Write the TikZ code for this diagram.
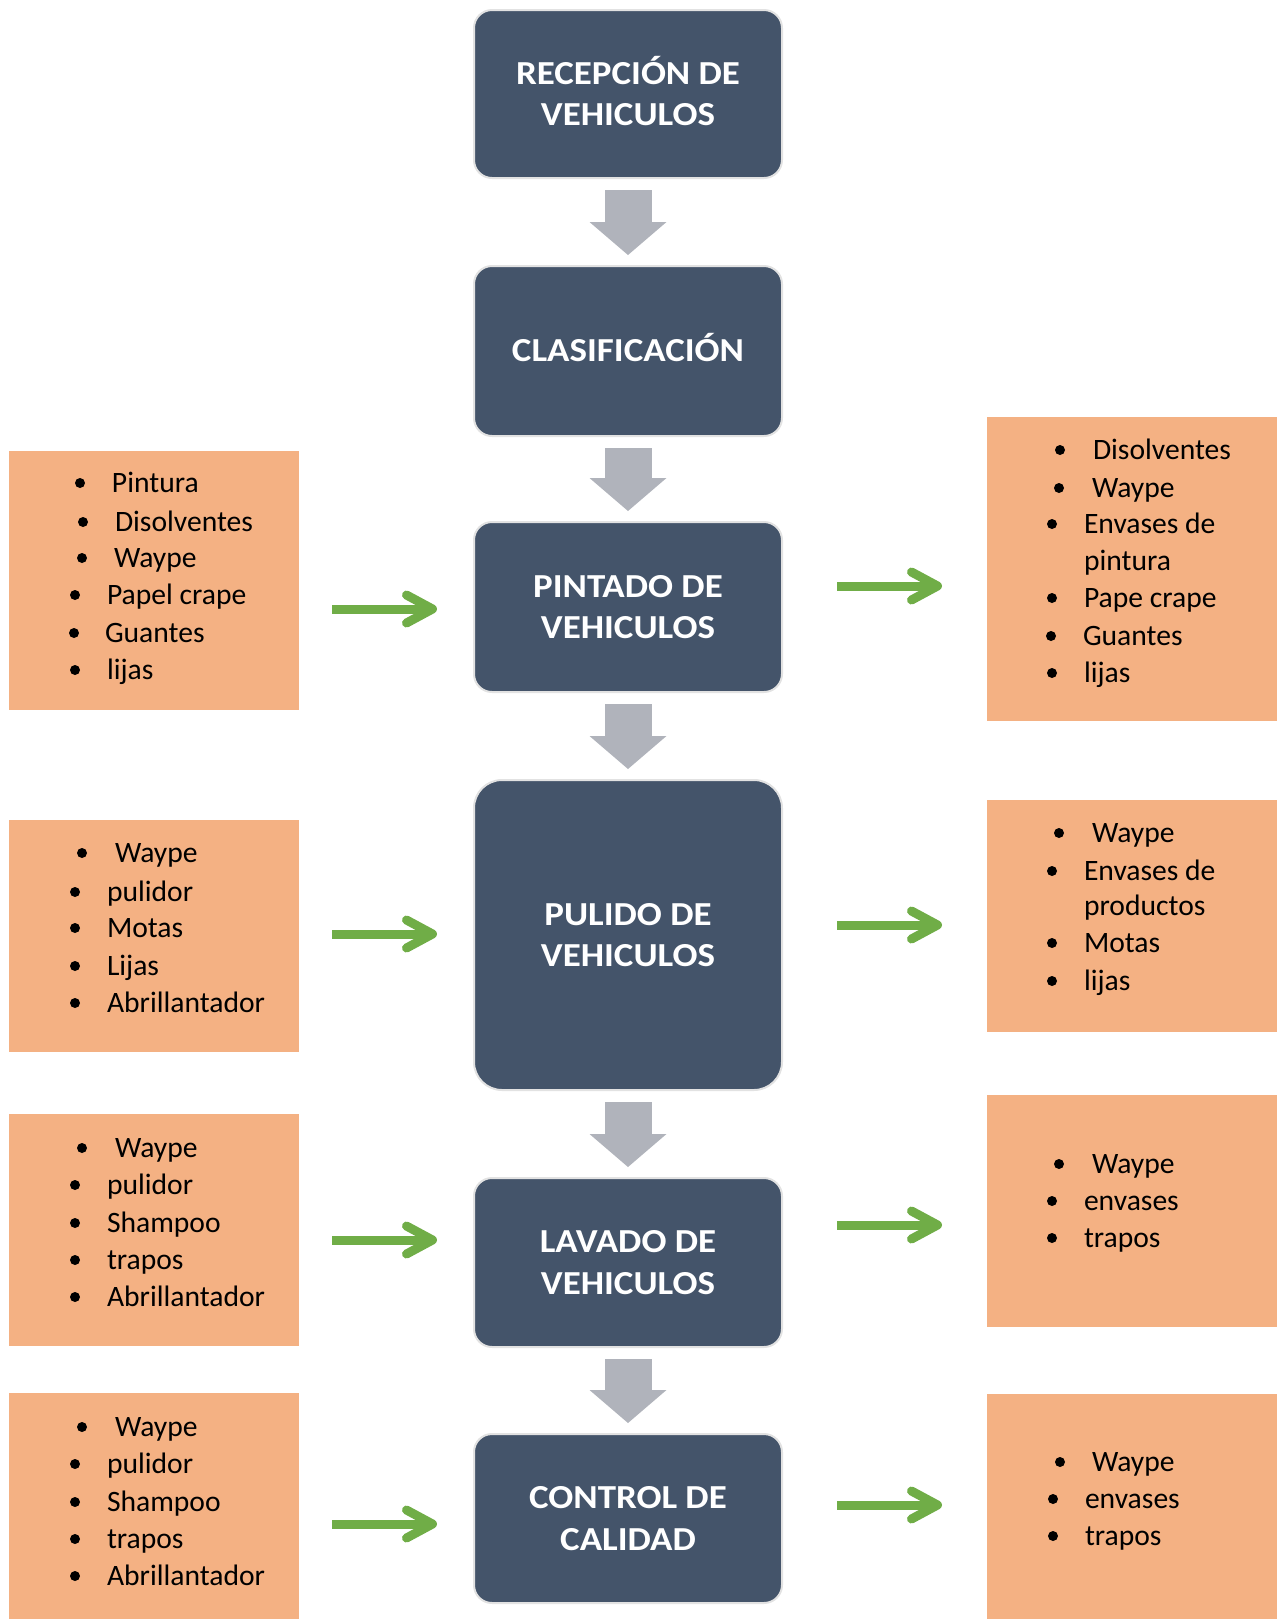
\documentclass[tikz,border=0pt]{standalone}
\usepackage{fontspec}
\setmainfont{Carlito}
\newfontfamily\etapafont[FakeStretch=1.1]{Carlito}
\usetikzlibrary{arrows.meta}
\definecolor{slate}{HTML}{44546A}
\definecolor{peach}{HTML}{F4B183}
\definecolor{leaf}{HTML}{70AD47}
\definecolor{steel}{RGB}{176,179,187}
\definecolor{rim}{HTML}{E2E2E2}
\tikzstyle{base}=[x=0.5pt, y=-0.5pt, inner sep=0pt, outer sep=0pt]
\tikzstyle{etapa}=[rectangle, rounded corners=9pt, fill=slate, draw=rim, line width=1pt, minimum width=154pt, text=white, align=center, font=\etapafont\fontsize{16.8}{20.6}\selectfont\bfseries]
\tikzstyle{lista}=[rectangle, fill=peach, minimum width=145pt]
\tikzstyle{punto}=[circle, fill=black, minimum size=5pt]
\tikzstyle{texto}=[anchor=base west, font=\fontsize{14.8}{18}\selectfont]
\tikzstyle{bajada}=[draw=steel, line width=23.5pt, -{Triangle[width=38.5pt, length=16.5pt, line width=0pt]}, shorten <=6pt, shorten >=5.5pt]
\tikzstyle{flecha}=[draw=leaf, line width=4.5pt, -{Straight Barb[length=13pt, width=14pt, line cap=round, line join=round]}]

\begin{document}
\begin{tikzpicture}[base]
    \useasboundingbox (0,0) rectangle (1278,1619);
    \node [etapa, minimum height=84pt] (recep) at (628,94) {RECEPCI\smash{Ó}N DE\\VEHICULOS};
    \node [etapa, minimum height=85pt] (clasif) at (628,351) {CLASIFICACI\smash{Ó}N};
    \node [etapa, minimum height=85pt] (pint) at (628,607) {PINTADO DE\\VEHICULOS};
    \node [etapa, minimum height=155pt, rounded corners=14pt] (pulido) at (628,935) {PULIDO DE\\VEHICULOS};
    \node [etapa, minimum height=84.5pt] (lavado) at (628,1262.5) {LAVADO DE\\VEHICULOS};
    \node [etapa, minimum height=84.5pt] (control) at (628,1518.5) {CONTROL DE\\CALIDAD};
    \node [lista, minimum height=129.5pt] (in1) at (154,580.5) {};
    \node [lista, minimum height=116pt] (in2) at (154,936) {};
    \node [lista, minimum height=116pt] (in3) at (154,1230) {};
    \node [lista, minimum height=113pt] (in4) at (154,1506) {};
    \node [lista, minimum height=152pt] (out1) at (1132,569) {};
    \node [lista, minimum height=116pt] (out2) at (1132,916) {};
    \node [lista, minimum height=116pt] (out3) at (1132,1211) {};
    \node [lista, minimum height=112.5pt] (out4) at (1132,1506.5) {};
    \foreach \a/\b in {recep/clasif, clasif/pint, pint/pulido, pulido/lavado, lavado/control}
        \draw [bajada] (\a) -- (\b);
    \coordinate (e1) at (0,609);
    \coordinate (e2) at (0,934);
    \coordinate (e3) at (0,1240);
    \coordinate (e4) at (0,1524);
    \coordinate (s1) at (0,586);
    \coordinate (s2) at (0,925);
    \coordinate (s3) at (0,1225);
    \coordinate (s4) at (0,1505);
    \foreach \a/\b/\c in {in1/pint/e1, in2/pulido/e2, in3/lavado/e3, in4/control/e4}
        \draw [flecha, shorten <=16.5pt, shorten >=18.5pt] (\a.east |- \c) -- (\b.west |- \c);
    \foreach \a/\b/\c in {pint/out1/s1, pulido/out2/s2, lavado/out3/s3, control/out4/s4}
        \draw [flecha, shorten <=27.5pt, shorten >=22.5pt] (\a.east |- \c) -- (\b.west |- \c);
    \foreach \bx/\tx/\yy/\txt [count=\i] in {
        80/112/483/Pintura, 83/115/522/Disolventes, 82/114/558/Waype,
        75/107/595/Papel crape, 74/105/633/Guantes, 75/107/670/lijas,
        82/115/853/Waype, 75/107/892/pulidor, 75/107/928/Motas,
        75/107/966/Lijas, 75/107/1003/Abrillantador,
        82/115/1148/Waype, 75/107/1185/pulidor, 75/107/1223/Shampoo,
        75/107/1260/trapos, 75/107/1297/Abrillantador,
        82/115/1427/Waype, 75/107/1464/pulidor, 75/107/1502/Shampoo,
        75/107/1539/trapos, 75/107/1576/Abrillantador,
        1060/1093/450/Disolventes, 1059/1092/488/Waype, 1052/1084/524/Envases de,
        1052/1084/598/Pape crape, 1051/1083/636/Guantes, 1052/1084/673/lijas,
        1059/1092/833/Waype, 1052/1084/871/Envases de, 1052/1084/943/Motas,
        1052/1084/981/lijas,
        1059/1092/1164/Waype, 1052/1084/1201/envases, 1052/1084/1238/trapos,
        1060/1092/1462/Waype, 1053/1085/1499/envases, 1053/1085/1536/trapos} {
        \node [punto] (p\i) at (\bx,\yy) {};
        \node [texto] (t\i) at (\tx,\yy+9.5) {\txt};
    }
    \node [texto] (c1) at (1084,570.5) {pintura};
    \node [texto] (c2) at (1084,915.5) {productos};
\end{tikzpicture}
\end{document}
